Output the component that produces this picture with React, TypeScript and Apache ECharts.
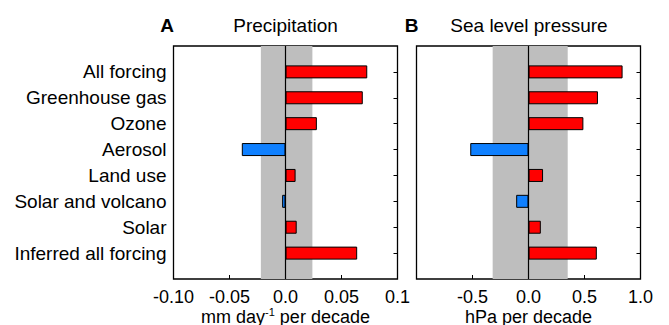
import React, { useEffect, useRef } from "react";
import * as echarts from "echarts";

const categories = [
  "All forcing",
  "Greenhouse gas",
  "Ozone",
  "Aerosol",
  "Land use",
  "Solar and volcano",
  "Solar",
  "Inferred all forcing",
];
const precipitation = [0.073, 0.069, 0.028, -0.039, 0.009, -0.003, 0.01, 0.064];
const seaLevelPressure = [0.84, 0.62, 0.49, -0.52, 0.13, -0.11, 0.11, 0.61];
const precipTickLabels = ["-0.10", "-0.05", "0.0", "0.05", "0.1"];
const slpTickLabels = ["", "-0.5", "0.0", "0.5", "1.0"];
const precipBand = [-0.022, 0.024];
const slpBand = [-0.32, 0.35];

const FONT = "'Liberation Sans', Arial, Helvetica, sans-serif";
const RED = "#ff0000";
const BLUE = "#0f80ff";

export default function App() {
  const ref = useRef<HTMLDivElement>(null);
  useEffect(() => {
    if (!ref.current) return;
    const chart = echarts.init(ref.current, undefined, { renderer: "svg" });
    const padCats = [" ", ...categories, "  "];
    const pad = (arr: number[]) => [null, ...arr, null];
    const tickShow = (i: number) => i > 0 && i < padCats.length - 1;

    const yAxisFor = (gridIndex: number, position: "left" | "right", showLabels: boolean) => ({
      type: "category",
      gridIndex,
      position,
      data: padCats,
      inverse: true,
      boundaryGap: false,
      axisLine: { show: false },
      axisTick: { show: true, inside: true, length: 4, interval: tickShow, lineStyle: { color: "#000", width: 1 } },
      axisLabel: {
        show: showLabels,
        interval: 0,
        fontSize: 19,
        color: "#000",
        fontFamily: FONT,
        margin: 7,
      },
      splitLine: { show: false },
    });

    const xAxisFor = (gridIndex: number, min: number, max: number, interval: number, labels: string[]) => ({
      type: "value",
      gridIndex,
      min,
      max,
      interval,
      axisLine: { show: false },
      axisTick: { show: true, inside: true, length: 4, lineStyle: { color: "#000", width: 1 } },
      splitLine: { show: false },
      axisLabel: {
        fontSize: 18,
        color: "#000",
        fontFamily: FONT,
        margin: 9,
        showMinLabel: true,
        showMaxLabel: true,
        formatter: (v: number) => labels[Math.round((v - min) / interval)] ?? "",
      },
    });

    const barSeries = (idx: number, values: number[], band: number[]) => ({
      type: "bar",
      xAxisIndex: idx,
      yAxisIndex: idx * 2,
      data: pad(values),
      barWidth: 13,
      z: 3,
      itemStyle: {
        color: (p: any) => (p.value >= 0 ? RED : BLUE),
        borderColor: "#000",
        borderWidth: 1,
      },
      markArea: {
        silent: true,
        z: 1,
        itemStyle: { color: "#bebebe" },
        data: [[{ xAxis: band[0] }, { xAxis: band[1] }]],
      },
      markLine: {
        silent: true,
        symbol: "none",
        label: { show: false },
        lineStyle: { color: "#000", width: 1.2, type: "solid" },
        data: [{ xAxis: 0 }],
      },
    });

    const gridBase = { show: true, borderColor: "#000", borderWidth: 1.3, backgroundColor: "transparent", top: 46, height: 233 };

    const rich = {
      n: { fontSize: 18, fontFamily: FONT, fill: "#000", lineHeight: 20 },
      s: { fontSize: 11, fontFamily: FONT, fill: "#000", verticalAlign: "top", lineHeight: 20 },
    };

    chart.setOption({
      animation: false,
      backgroundColor: "#fff",
      grid: [
        { ...gridBase, left: 173.5, width: 224 },
        { ...gridBase, left: 416.5, width: 224 },
      ],
      xAxis: [
        xAxisFor(0, -0.1, 0.1, 0.05, precipTickLabels),
        xAxisFor(1, -1, 1, 0.5, slpTickLabels),
      ],
      yAxis: [
        yAxisFor(0, "left", true),
        yAxisFor(0, "right", false),
        yAxisFor(1, "left", false),
        yAxisFor(1, "right", false),
      ],
      series: [barSeries(0, precipitation, precipBand), barSeries(1, seaLevelPressure, slpBand)],
      graphic: [
        { type: "text", x: 167, y: 25, style: { text: "A", fontSize: 19, fontWeight: "bold", fontFamily: FONT, fill: "#000", align: "center", verticalAlign: "middle" } },
        { type: "text", x: 285.5, y: 25, style: { text: "Precipitation", fontSize: 19, fontFamily: FONT, fill: "#000", align: "center", verticalAlign: "middle" } },
        { type: "text", x: 411.5, y: 25, style: { text: "B", fontSize: 19, fontWeight: "bold", fontFamily: FONT, fill: "#000", align: "center", verticalAlign: "middle" } },
        { type: "text", x: 529, y: 25, style: { text: "Sea level pressure", fontSize: 19, fontFamily: FONT, fill: "#000", align: "center", verticalAlign: "middle" } },
        { type: "text", x: 285.5, y: 316.5, style: { text: "{n|mm day}{s|-1}{n| per decade}", rich, align: "center", verticalAlign: "middle" } },
        { type: "text", x: 528.5, y: 316.5, style: { text: "{n|hPa per decade}", rich, align: "center", verticalAlign: "middle" } },
      ],
    });
    return () => chart.dispose();
  }, []);
  return <div ref={ref} style={{ position: "absolute", left: 0, top: 0, width: 669, height: 325 }} />;
}
